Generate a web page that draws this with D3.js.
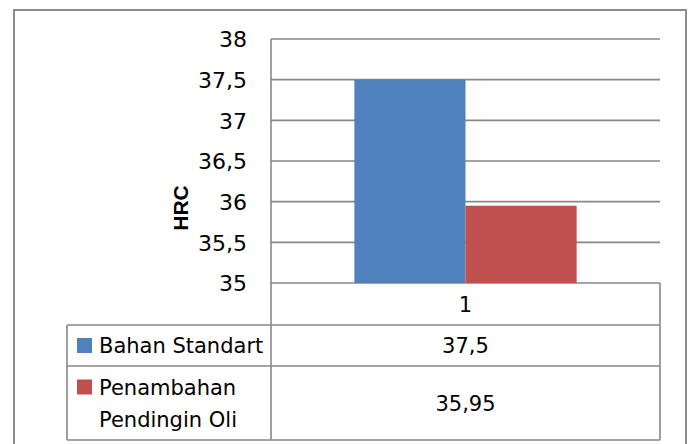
<!DOCTYPE html>
<html>
<head>
<meta charset="utf-8">
<script src="https://cdn.jsdelivr.net/npm/d3@7"></script>
<style>
html,body{margin:0;padding:0;background:#fff;}
svg{display:block;}
</style>
</head>
<body>
<svg id="chart" width="692" height="444"></svg>
<script>
const categories = ["1"];
const seriesNames = ["Bahan Standart", "Penambahan Pendingin Oli"];
const seriesLabelLines = [["Bahan Standart"], ["Penambahan", "Pendingin Oli"]];
const seriesValues = [[37.5], [35.95]];
const valueLabels = [["37,5"], ["35,95"]];
const seriesColors = ["#4F81BD", "#C0504D"];
const yTicks = [35, 35.5, 36, 36.5, 37, 37.5, 38];
const yTickLabels = ["35", "35,5", "36", "36,5", "37", "37,5", "38"];
const yTitle = "HRC";

const svg = d3.select("#chart");
const font = "'DejaVu Sans', Verdana, sans-serif";
const titleFont = "'Liberation Sans', Arial, sans-serif";
const lineColor = "#888888";

// layout
const plotLeft = 271, plotRight = 660, plotTop = 39, plotBottom = 283;
const catRowBottom = 325;
const rowBottoms = [366, 440];
const tableLeft = 67;

// outer border
svg.append("rect").attr("x", 14).attr("y", 10).attr("width", 672).attr("height", 460)
  .attr("fill", "none").attr("stroke", "#8c8c8c").attr("stroke-width", 2);

const y = d3.scaleLinear().domain([35, 38]).range([plotBottom, plotTop]);
const x = d3.scaleBand().domain(categories).range([plotLeft, plotRight]);

// gridlines
svg.append("g").selectAll("line").data(yTicks).join("line")
  .attr("x1", plotLeft).attr("x2", plotRight)
  .attr("y1", d => y(d)).attr("y2", d => y(d))
  .attr("stroke", lineColor).attr("stroke-width", 1.6);

// bars
const gap = 1.5;
categories.forEach((c, ci) => {
  const bw = x.bandwidth();
  const barW = bw / (seriesNames.length + gap);
  const start = x(c) + barW * gap / 2;
  const xs = d3.scaleBand().domain(seriesNames).range([start, start + barW * seriesNames.length]);
  svg.append("g").selectAll("rect").data(seriesNames).join("rect")
    .attr("x", s => xs(s))
    .attr("width", xs.bandwidth())
    .attr("y", (s, si) => y(seriesValues[si][ci]))
    .attr("height", (s, si) => y(35) - y(seriesValues[si][ci]))
    .attr("fill", (s, si) => seriesColors[si]);
});

// y axis (left)
const yAxis = d3.axisLeft(y).tickValues(yTicks).tickSize(0).tickPadding(0)
  .tickFormat((d, i) => yTickLabels[i]);
const yg = svg.append("g").attr("transform", `translate(247,0)`).call(yAxis);
yg.select(".domain").remove();
yg.selectAll("text").attr("font-family", font).attr("font-size", 22).attr("fill", "#000")
  .attr("dy", "0.36em");

// y axis line
svg.append("line").attr("x1", plotLeft).attr("x2", plotLeft).attr("y1", plotTop).attr("y2", rowBottoms[1])
  .attr("stroke", lineColor).attr("stroke-width", 1.6);

// y title
svg.append("text").attr("transform", `translate(188,208) rotate(-90)`)
  .attr("text-anchor", "middle").attr("font-family", titleFont).attr("font-weight", "bold")
  .attr("font-size", 21).attr("fill", "#000").text(yTitle);

// data table lines
const hLines = [
  {x1: tableLeft, x2: plotRight, y: catRowBottom},
  {x1: tableLeft, x2: plotRight, y: rowBottoms[0]},
  {x1: tableLeft, x2: plotRight, y: rowBottoms[1]}
];
svg.append("g").selectAll("line").data(hLines).join("line")
  .attr("x1", d => d.x1).attr("x2", d => d.x2).attr("y1", d => d.y).attr("y2", d => d.y)
  .attr("stroke", lineColor).attr("stroke-width", 1.6);
const vLines = [
  {x: plotRight, y1: plotBottom, y2: rowBottoms[1]},
  {x: tableLeft, y1: catRowBottom, y2: rowBottoms[1]}
];
svg.append("g").selectAll("line").data(vLines).join("line")
  .attr("x1", d => d.x).attr("x2", d => d.x).attr("y1", d => d.y1).attr("y2", d => d.y2)
  .attr("stroke", lineColor).attr("stroke-width", 1.6);

// category labels
svg.append("g").selectAll("text").data(categories).join("text")
  .attr("x", d => x(d) + x.bandwidth() / 2).attr("y", (plotBottom + catRowBottom) / 2)
  .attr("dy", "0.36em").attr("text-anchor", "middle")
  .attr("font-family", font).attr("font-size", 21).text(d => d);

// value cells & legend cells
const rowTops = [catRowBottom, rowBottoms[0]];
seriesNames.forEach((s, si) => {
  const top = rowTops[si], bot = rowBottoms[si], mid = (top + bot) / 2;
  categories.forEach((c, ci) => {
    svg.append("text").attr("x", x(c) + x.bandwidth() / 2).attr("y", mid)
      .attr("dy", "0.36em").attr("text-anchor", "middle")
      .attr("font-family", font).attr("font-size", 21).text(valueLabels[si][ci]);
  });
  const lines = seriesLabelLines[si];
  const lh = 32;
  const firstBaseline = mid - (lines.length - 1) * lh / 2 + 7.5;
  svg.append("rect").attr("x", 77).attr("y", firstBaseline - 15).attr("width", 15).attr("height", 15)
    .attr("fill", seriesColors[si]);
  const t = svg.append("text").attr("font-family", font).attr("font-size", 21);
  lines.forEach((ln, li) => {
    t.append("tspan").attr("x", 99).attr("y", firstBaseline + li * lh).text(ln);
  });
});
</script>
</body>
</html>
